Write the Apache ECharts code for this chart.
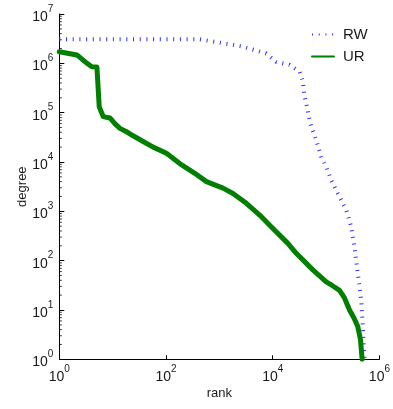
<!DOCTYPE html>
<html>
<head>
<meta charset="utf-8">
<script src="https://cdn.jsdelivr.net/npm/echarts@6/dist/echarts.min.js"></script>
<style>html,body{margin:0;padding:0;background:#fff}#c{width:393px;height:409px}</style>
</head>
<body>
<div id="c"></div>
<script>
// ---- data ----
const seriesNames = ['RW', 'UR'];
const rwRank = [1, 429, 1016, 2735, 7590, 11670, 20700, 31840, 36730, 39540, 42560, 48980, 52720, 65460, 81100, 100700, 124700, 166000, 238200, 295100, 340400, 392600, 455000, 487500, 524800];
const rwDegree = [3.07e6, 3.07e6, 2.63e6, 2.19e6, 1.58e6, 1.07e6, 9.3e5, 6.8e5, 4.3e5, 2.1e5, 1.55e5, 7.1e4, 5.2e4, 2.8e4, 1.28e4, 7900, 4300, 2300, 1070, 490, 190, 55, 16, 4.6, 1];
const urRank = [1, 2.14, 3.31, 4.07, 5.07, 5.6, 6.65, 8.9, 11.0, 13.7, 18.2, 24.2, 37.3, 57.4, 102, 181, 346, 573, 1170, 1800, 3210, 5690, 10090, 19230, 27600, 56500, 100700, 132100, 178600, 221300, 274800, 333400, 392600, 441600, 474000];
const urDegree = [1.72e6, 1.48e6, 1.0e6, 8.5e5, 8.4e5, 1.32e5, 8.3e4, 7.8e4, 6.0e4, 4.8e4, 4.1e4, 3.4e4, 2.6e4, 2.0e4, 1.5e4, 9300, 5900, 4000, 2950, 2300, 1450, 840, 450, 224, 141, 65, 37, 31, 25, 17.5, 10, 6.9, 4.6, 2.5, 1];
const xTickValues = [1, 100, 10000, 1000000];
const yTickValues = [1, 10, 100, 1000, 10000, 100000, 1000000, 10000000];
const axisNames = {x: 'rank', y: 'degree'};

const FONT = '"Liberation Sans", Arial, Helvetica, sans-serif';
const TXT = '#1a1a1a';

function zip(a, b) { return a.map((v, i) => [v, b[i]]); }
function powLabel(v) {
  const e = Math.round(Math.log10(v));
  return '{b|10}{s|' + e + '}';
}
const rich = {
  b: {fontSize: 14, fontFamily: FONT, color: TXT, lineHeight: 20, verticalAlign: 'bottom'},
  s: {fontSize: 10, fontFamily: FONT, color: TXT, lineHeight: 12, verticalAlign: 'top'}
};

const chart = echarts.init(document.getElementById('c'), null, {renderer: 'canvas'});
const option = {
  animation: false,
  backgroundColor: '#fff',
  grid: {left: 59.3, right: 13, top: 14, bottom: 49.7, containLabel: false},
  legend: {
    orient: 'vertical',
    left: 306, top: 22,
    itemWidth: 22, itemHeight: 10, itemGap: 7,
    itemStyle: {opacity: 0},
    textStyle: {fontSize: 15, fontFamily: FONT, color: TXT, padding: [0, 0, 0, 4]},
    data: seriesNames
  },
  xAxis: {
    type: 'log', logBase: 10, min: 1, max: 1000000, interval: 2,
    name: axisNames.x, nameLocation: 'middle', nameGap: 28, nameMoveOverlap: false,
    nameTextStyle: {fontSize: 13, fontFamily: FONT, color: TXT},
    axisLine: {show: true, lineStyle: {color: '#000', width: 1}},
    axisTick: {show: true, inside: true, length: 4, lineStyle: {color: '#000'}},
    axisLabel: {margin: 5, formatter: powLabel, rich: rich},
    splitLine: {show: false},
    minorTick: {show: false}
  },
  yAxis: {
    type: 'log', logBase: 10, min: 1, max: 10000000,
    name: axisNames.y, nameLocation: 'middle', nameGap: 30, nameRotate: 90, nameMoveOverlap: false,
    nameTextStyle: {fontSize: 13, fontFamily: FONT, color: TXT},
    axisLine: {show: true, lineStyle: {color: '#000', width: 1}},
    axisTick: {show: true, inside: true, length: 5, lineStyle: {color: '#000'}},
    axisLabel: {margin: 6, formatter: powLabel, rich: rich},
    splitLine: {show: false},
    minorTick: {show: false}
  },
  series: [
    {
      name: seriesNames[0], type: 'line', data: zip(rwRank, rwDegree),
      symbol: 'none', z: 2,
      lineStyle: {color: '#3030ff', width: 4, type: [1, 5.7], opacity: 1},
      itemStyle: {color: '#3030ff'}
    },
    {
      name: seriesNames[1], type: 'line', data: zip(urRank, urDegree),
      symbol: 'none', z: 3,
      lineStyle: {color: '#007f00', width: 5, cap: 'round', join: 'round'},
      itemStyle: {color: '#007f00'}
    }
  ]
};
chart.setOption(option);

// log-spaced minor ticks on the y axis (2..9 per decade), placed via the axis scale
const graphics = [];
const x0 = chart.convertToPixel({xAxisIndex: 0}, 1);
for (let d = 0; d < 7; d++) {
  for (let k = 2; k <= 9; k++) {
    const v = k * Math.pow(10, d);
    const py = chart.convertToPixel({yAxisIndex: 0}, v);
    graphics.push({type: 'line', shape: {x1: x0, y1: py, x2: x0 + 2.5, y2: py},
      style: {stroke: '#000', lineWidth: 0.8}, silent: true});
  }
}
chart.setOption({graphic: graphics});
</script>
</body>
</html>
